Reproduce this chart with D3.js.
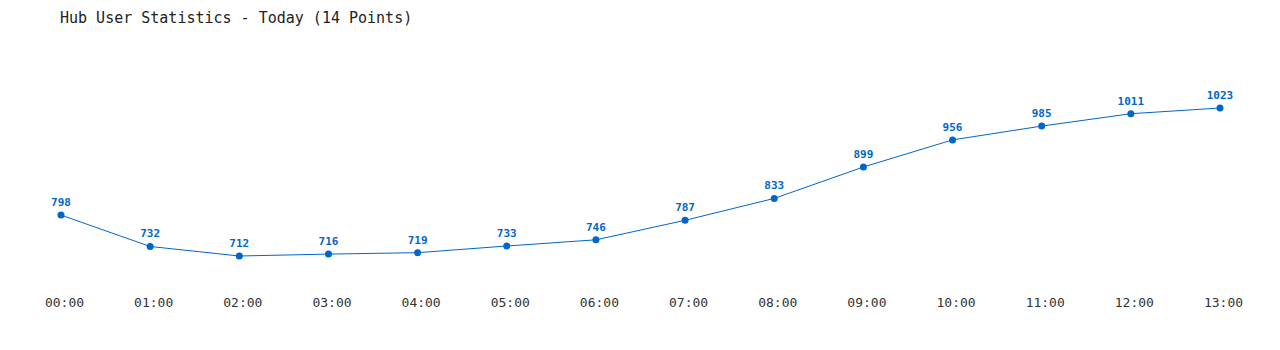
<!DOCTYPE html>
<html>
<head>
<meta charset="utf-8">
<script src="https://cdn.jsdelivr.net/npm/d3@7"></script>
<style>
  html, body { margin: 0; padding: 0; background: #fff; }
  svg { display: block; }
</style>
</head>
<body>
<div id="chart"></div>
<script>
const title = "Hub User Statistics - Today (14 Points)";
const hours = ["00:00", "01:00", "02:00", "03:00", "04:00", "05:00", "06:00",
               "07:00", "08:00", "09:00", "10:00", "11:00", "12:00", "13:00"];
const users = [798, 732, 712, 716, 719, 733, 746, 787, 833, 899, 956, 985, 1011, 1023];

const width = 1280, height = 350;
const margin = { top: 108, right: 60, bottom: 94, left: 61 };
const font = "'DejaVu Sans Mono', monospace";
const blue = "#0066cc";

const svg = d3.select("#chart").append("svg")
    .attr("width", width)
    .attr("height", height);

svg.append("text")
    .attr("x", 60)
    .attr("y", 23)
    .attr("fill", "#222")
    .style("font", `15px ${font}`)
    .text(title);

const x = d3.scalePoint()
    .domain(hours)
    .range([margin.left, width - margin.right]);

const y = d3.scaleLinear()
    .domain(d3.extent(users))
    .range([height - margin.bottom, margin.top]);

const data = hours.map((h, i) => ({ h, v: users[i] }));

// x labels only, no axis line; labels sit a few px right of the points
const xAxis = svg.append("g")
    .attr("transform", `translate(3,${height - 52})`)
    .call(d3.axisBottom(x).tickSize(0).tickPadding(0));
xAxis.select(".domain").remove();
xAxis.selectAll("text")
    .attr("fill", "#333")
    .style("font", `13px ${font}`);

svg.append("path")
    .datum(data)
    .attr("fill", "none")
    .attr("stroke", blue)
    .attr("stroke-width", 1)
    .attr("d", d3.line().x(d => x(d.h)).y(d => y(d.v)));

svg.selectAll("circle.pt")
    .data(data)
    .join("circle")
    .attr("class", "pt")
    .attr("cx", d => x(d.h))
    .attr("cy", d => y(d.v))
    .attr("r", 3.5)
    .attr("fill", blue);

svg.selectAll("text.val")
    .data(data)
    .join("text")
    .attr("class", "val")
    .attr("x", d => x(d.h))
    .attr("y", d => y(d.v) - 9)
    .attr("text-anchor", "middle")
    .attr("fill", blue)
    .style("font", `bold 11px ${font}`)
    .text(d => d.v);
</script>
</body>
</html>
